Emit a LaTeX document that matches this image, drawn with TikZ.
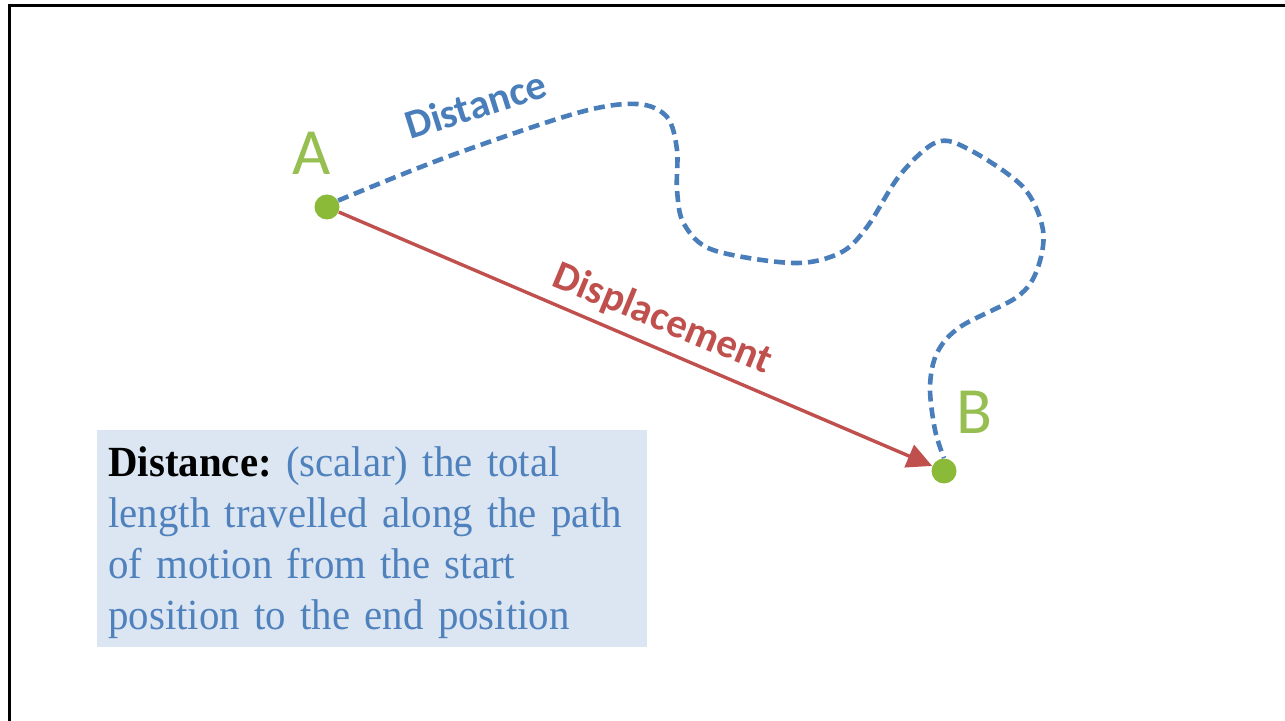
\documentclass[tikz,border=0pt]{standalone}
\usepackage{fontspec}
\setmainfont{Liberation Serif}
\newfontfamily\boxfont[FakeStretch=0.95]{Liberation Serif}
\newfontfamily\labelfont{Carlito}
\usetikzlibrary{arrows.meta}

\definecolor{dotgreen}{RGB}{138,186,56}
\definecolor{letgreen}{RGB}{150,190,80}
\definecolor{pathblue}{RGB}{74,126,187}
\definecolor{textblue}{RGB}{79,129,189}
\definecolor{disred}{RGB}{192,80,77}
\definecolor{boxblue}{RGB}{220,230,242}

\begin{document}
\begin{tikzpicture}[x=0.5pt, y=-0.5pt,
    point/.style={circle, fill=dotgreen, inner sep=0pt, minimum size=12.5pt},
    pointlabel/.style={inner sep=0pt, text=letgreen, font=\labelfont\fontsize{33}{33}\selectfont},
    distpath/.style={pathblue, line width=2.3pt, dash pattern=on 5.5pt off 3pt},
    disparrow/.style={disred, line width=1.7pt, -{Triangle[length=12.5pt, width=12pt]}},
    pathlabel/.style={inner sep=0pt, anchor=base, font=\labelfont\bfseries\fontsize{20.5}{20.5}\selectfont}]
    % 1. page and frame
    \useasboundingbox (0,0) rectangle (1285,721);
    \fill[white] (0,0) rectangle (1285,721);
    \draw[line width=1.5pt] (9,740) -- (9,6) -- (1300,6);

    % 2. start and end points
    \node[point] (A) at (327,207) {};
    \node[point] (B) at (944,471) {};
    \node[pointlabel] (Alabel) at (312,153) {A};
    \node[pointlabel] (Blabel) at (974,412) {B};

    % 3. path travelled (distance)
    \draw[distpath] plot[smooth, tension=0.55] coordinates {
        (A.30) (447,157) (577,113) (637,104) (667,117) (677,150) (677,190)
        (684,224) (713,250) (793,263) (840,253) (867,227) (900,175)
        (937,142) (970,150) (1023,187) (1043,230) (1037,270) (1017,297)
        (960,327) (937,353) (930,387) (935,430) (B.north)};
    \node[pathlabel, text=pathblue, rotate=17.5] (distlabel) at (480,118) {Distance};

    % 4. straight line (displacement)
    \draw[disparrow] (A) -- (B);
    \node[pathlabel, text=disred, rotate=-22.5] (displabel) at (658,330) {Displacement};

    % 5. definition box
    \node[anchor=north west, fill=boxblue, inner xsep=5.5pt, inner ysep=0pt,
        text width=264pt, align=left, text=textblue,
        font=\boxfont\fontsize{21.5}{25.5}\selectfont\frenchspacing] (defbox) at (97,430)
        {\rule{0pt}{23pt}\textcolor{black}{\textbf{Distance:}} (scalar) the total\\
         length travelled along the path\\
         of motion from the start\\
         position to the end position\rule[-9pt]{0pt}{9pt}};
\end{tikzpicture}
\end{document}
